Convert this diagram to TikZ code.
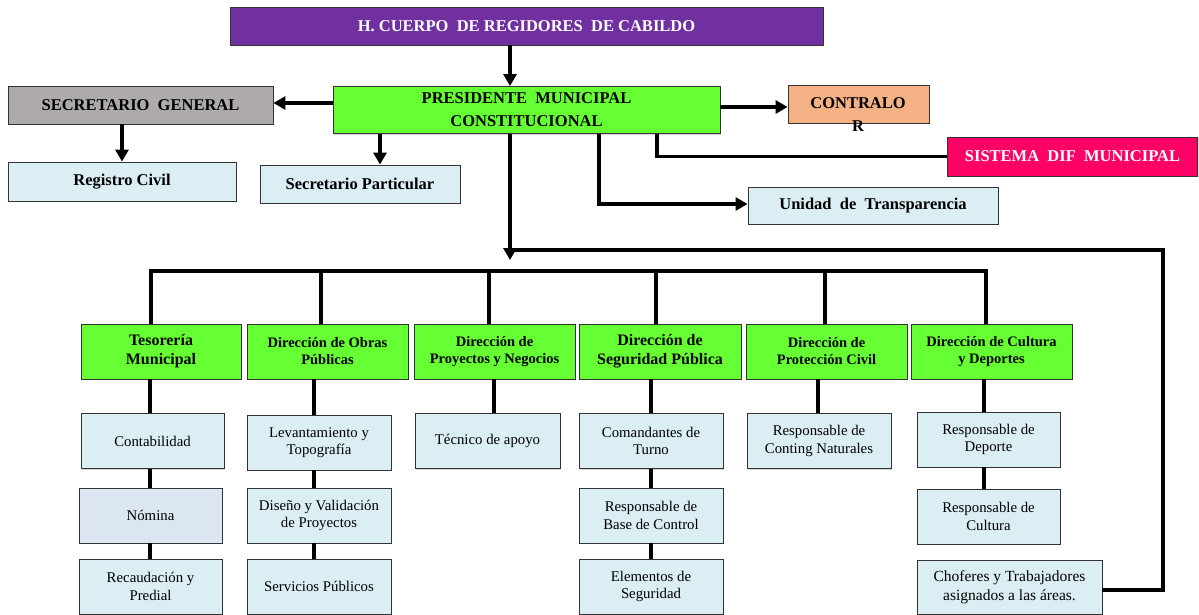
\documentclass[tikz,border=0pt]{standalone}
\usepackage{fontspec}
\setmainfont{Liberation Serif}
\usetikzlibrary{arrows.meta,shadows}
\definecolor{cpurple}{HTML}{7030A0}
\definecolor{cgreen}{HTML}{66FF33}
\definecolor{cgray}{HTML}{AEAAAA}
\definecolor{cpeach}{HTML}{F4B183}
\definecolor{cdif}{HTML}{FF0066}
\definecolor{clight}{HTML}{DAEEF3}
\definecolor{cnom}{HTML}{DCE6F2}
\tikzset{
 box/.style={draw=black!80, line width=0.9pt, inner sep=1pt, align=center,
   drop shadow={shadow xshift=1.2pt, shadow yshift=-1.2pt, opacity=0.3}},
 bigtxt/.style={font=\fontsize{16.5}{20.5}\selectfont\bfseries},
 depttxt/.style={font=\fontsize{14.5}{17}\selectfont\bfseries},
 depttxtL/.style={font=\fontsize{16}{19}\selectfont\bfseries},
 subtxt/.style={font=\fontsize{14.8}{17.5}\selectfont},
 dept/.style={box, fill=cgreen, minimum height=55pt},
 sub/.style={box, fill=clight, subtxt, minimum height=55pt, minimum width=144pt},
 conn/.style={line width=3.5pt, line join=miter},
 arr/.style={conn, -{Triangle[length=12pt,width=13pt]}},
}
\begin{document}
\begin{tikzpicture}[x=1pt,y=-1pt]
\useasboundingbox (0,0) rectangle (1199,615);
% top level
\node[box, bigtxt, fill=cpurple, text=white, minimum width=593pt, minimum height=38pt] (top) at (526.5,26) {H. CUERPO~ DE REGIDORES~ DE CABILDO};
\node[box, font=\fontsize{16.5}{23}\selectfont\bfseries, fill=cgreen, minimum width=387pt, minimum height=47pt] (pres) at (526.5,110) {PRESIDENTE~ MUNICIPAL\\CONSTITUCIONAL};
\node[box, bigtxt, fill=cgray, minimum width=265pt, minimum height=38pt] (sg) at (140.5,105) {SECRETARIO~ GENERAL};
\node[box, bigtxt, fill=clight, minimum width=228pt, minimum height=39pt] (reg) at (122,181.5) {Registro Civil};
\node[box, bigtxt, fill=clight, minimum width=200pt, minimum height=38pt] (spart) at (360,184) {Secretario Particular};
\node[box, fill=cpeach, minimum width=141pt, minimum height=38pt] (contr) at (858.5,104) {};
\node[font=\fontsize{16.5}{23}\selectfont\bfseries, anchor=north, inner sep=0pt, align=center] (contrtxt) at (858,97) {CONTRALO\\R};
\node[box, bigtxt, fill=cdif, text=white, minimum width=250pt, minimum height=39pt] (dif) at (1072.5,156.5) {SISTEMA~ DIF~ MUNICIPAL};
\node[box, bigtxt, fill=clight, minimum width=250pt, minimum height=37pt] (unidad) at (873,205.5) {Unidad~ de~ Transparencia};
% departments
\node[dept, depttxtL, minimum width=160pt] (tes) at (161,351.5) {Tesorería\\Municipal};
\node[dept, depttxt, minimum width=161pt] (obras) at (327.5,351.5) {Dirección de Obras\\Públicas};
\node[dept, depttxt, minimum width=161pt] (proy) at (494.5,351.5) {Dirección de\\Proyectos y Negocios};
\node[dept, depttxtL, minimum width=162pt] (seg) at (660,351.5) {Dirección de\\Seguridad Pública};
\node[dept, depttxt, minimum width=161pt] (prot) at (826.5,351.5) {Dirección de\\Protección Civil};
\node[dept, depttxt, minimum width=161pt] (cult) at (991.5,351.5) {Dirección de Cultura\\y Deportes};
% sub boxes
\node[sub, minimum width=143pt] (cont) at (152.5,441) {Contabilidad};
\node[sub, fill=cnom, minimum width=143pt] (nom) at (150.5,515.5) {Nómina};
\node[sub, minimum width=143pt] (rec) at (150.5,586.5) {Recaudación y\\Predial};
\node[sub] (lev) at (319,442.5) {Levantamiento y\\Topografía};
\node[sub] (dis) at (319,515.5) {Diseño y Validación\\de Proyectos};
\node[sub] (serv) at (319,586.5) {Servicios Públicos};
\node[sub, minimum width=145pt] (tec) at (487.5,441) {Técnico de apoyo};
\node[sub] (com) at (651,441) {Comandantes de\\Turno};
\node[sub] (base) at (651,515.5) {Responsable de\\Base de Control};
\node[sub] (elem) at (651,586.5) {Elementos de\\Seguridad};
\node[sub] (cnat) at (819,441) {Responsable de\\Conting Naturales};
\node[sub, minimum width=143pt] (dep) at (988.5,439.5) {Responsable de\\Deporte};
\node[sub, minimum width=143pt] (cultr) at (988.5,516.5) {Responsable de\\Cultura};
\node[sub, font=\fontsize{15.5}{18.5}\selectfont, minimum width=185pt, minimum height=54pt] (chof) at (1009.5,587) {Choferes y Trabajadores\\asignados a las áreas.};
% helper coordinates
\coordinate (tx) at (510,0);
\coordinate (sx) at (380,0);
\coordinate (dx) at (657,0);
\coordinate (ux) at (599,0);
\coordinate (trunkend) at (510,260);
\coordinate (jn) at (510,250);
\coordinate (rc) at (1163,250);
\coordinate (b1) at (151,271);
\coordinate (b2) at (321,271);
\coordinate (b3) at (489,271);
\coordinate (b4) at (656,271);
\coordinate (b5) at (825,271);
\coordinate (b6) at (986,271);
\coordinate (t1) at (150,0);
\coordinate (t2) at (314,0);
\coordinate (t3) at (494,0);
\coordinate (t4) at (651,0);
\coordinate (t5) at (818,0);
\coordinate (t6) at (984,0);
% top connectors
\draw[arr] (top.south -| tx) -- (pres.north -| tx);
\draw[arr] ([yshift=7pt]pres.west) -- ([yshift=7pt]pres.west -| sg.east);
\draw[arr] (sg.south -| reg.north) -- (reg.north);
\draw[arr] (pres.south -| sx) -- (spart.north -| sx);
\draw[arr] ([yshift=3pt]pres.east) -- ([yshift=3pt]pres.east -| contr.west);
\draw[conn] (pres.south -| dx) |- (dif.west);
\draw[arr] (pres.south -| ux) |- ([yshift=1.5pt]unidad.west);
\draw[arr] (pres.south -| tx) -- (trunkend);
\draw[conn] ([yshift=-3pt]chof.east) -| (rc) -- (jn);
% bus
\draw[conn] (tes.north -| b1) -- (b1) -- (b6) -- (cult.north -| b6);
\draw[conn] (b2) -- (obras.north -| b2);
\draw[conn] (b3) -- (proy.north -| b3);
\draw[conn] (b4) -- (seg.north -| b4);
\draw[conn] (b5) -- (prot.north -| b5);
% sub connectors
\draw[conn] (tes.south -| t1) -- (cont.north -| t1);
\draw[conn] (cont.south -| t1) -- (nom.north -| t1);
\draw[conn] (nom.south -| t1) -- (rec.north -| t1);
\draw[conn] (obras.south -| t2) -- (lev.north -| t2);
\draw[conn] (lev.south -| t2) -- (dis.north -| t2);
\draw[conn] (dis.south -| t2) -- (serv.north -| t2);
\draw[conn] (proy.south -| t3) -- (tec.north -| t3);
\draw[conn] (seg.south -| t4) -- (com.north -| t4);
\draw[conn] (com.south -| t4) -- (base.north -| t4);
\draw[conn] (base.south -| t4) -- (elem.north -| t4);
\draw[conn] (prot.south -| t5) -- (cnat.north -| t5);
\draw[conn] (cult.south -| t6) -- (dep.north -| t6);
\draw[conn] (dep.south -| t6) -- (cultr.north -| t6);
\end{tikzpicture}
\end{document}
